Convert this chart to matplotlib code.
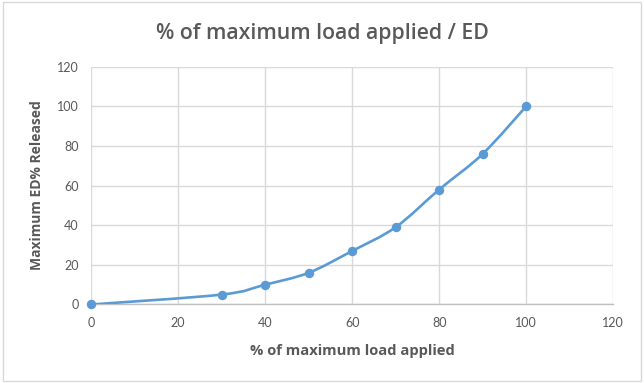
import matplotlib.pyplot as plt
from matplotlib.path import Path
from matplotlib.patches import PathPatch, Rectangle

# data
load_pct = [0, 30, 40, 50, 60, 70, 80, 90, 100]
ed_released = [0, 5, 10, 16, 27, 39, 58, 76, 100]
x_ticks = [0, 20, 40, 60, 80, 100, 120]
y_ticks = [0, 20, 40, 60, 80, 100, 120]

line_blue = '#5b9bd5'
text_gray = '#595959'
grid_gray = '#d9d9d9'

plt.rcParams['font.family'] = ['Lato', 'DejaVu Sans']

fig = plt.figure(figsize=(6.44, 3.83), dpi=100)
ax = fig.add_axes([0.1413, 0.205, 0.811, 0.621])

# outer chart border
fig.patches.append(Rectangle((0.004, 0.004), 0.992, 0.99, transform=fig.transFigure,
                             fill=False, edgecolor=grid_gray, linewidth=1))

# smoothed line: cubic bezier segments through the points
pts = list(zip(load_pct, ed_released))
verts = [pts[0]]
codes = [Path.MOVETO]
n = len(pts)
for i in range(n - 1):
    p0 = pts[i - 1] if i > 0 else pts[i]
    p1 = pts[i]
    p2 = pts[i + 1]
    p3 = pts[i + 2] if i + 2 < n else pts[i + 1]
    c1 = (p1[0] + (p2[0] - p0[0]) / 6, p1[1] + (p2[1] - p0[1]) / 6)
    c2 = (p2[0] - (p3[0] - p1[0]) / 6, p2[1] - (p3[1] - p1[1]) / 6)
    verts += [c1, c2, p2]
    codes += [Path.CURVE4] * 3
ax.add_patch(PathPatch(Path(verts, codes), facecolor='none', edgecolor=line_blue,
                       linewidth=1.9, capstyle='round', joinstyle='round', zorder=3))
ax.plot(load_pct, ed_released, linestyle='none', marker='o', markersize=5.8,
        color=line_blue, zorder=4, clip_on=False)

ax.set_xlim(0, 120)
ax.set_ylim(0, 120)
ax.set_xticks(x_ticks)
ax.set_yticks(y_ticks)
ax.grid(True, color=grid_gray, linewidth=1)
ax.set_axisbelow(True)
for side in ['top', 'right', 'left']:
    ax.spines[side].set_visible(False)
ax.spines['bottom'].set_color('#bfbfbf')
ax.spines['bottom'].set_linewidth(1)
ax.tick_params(length=0, labelsize=9, labelcolor=text_gray, pad=9)

ax.set_xlabel('% of maximum load applied', fontsize=10.6, fontweight='bold',
              color=text_gray, labelpad=11, family=['Open Sans', 'DejaVu Sans'])
ax.set_ylabel('Maximum ED% Released', fontsize=10, fontweight='bold',
              color=text_gray, labelpad=9, family=['Open Sans', 'DejaVu Sans'])
fig.text(0.5, 0.913, '% of maximum load applied / ED', ha='center', va='center',
         fontsize=15.3, fontweight='semibold', color=text_gray,
         family=['Open Sans', 'DejaVu Sans'])

fig.savefig('out.png', dpi=100)
